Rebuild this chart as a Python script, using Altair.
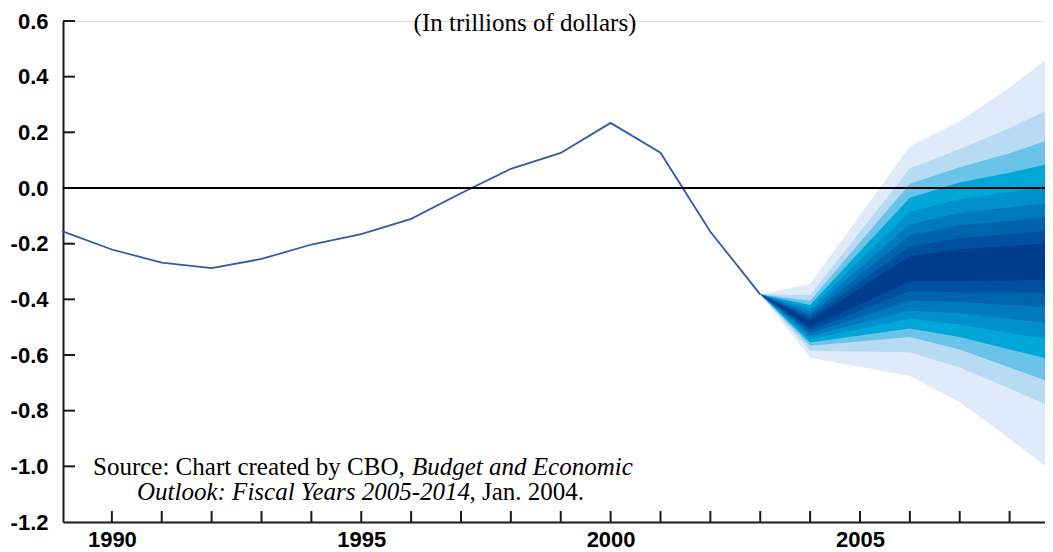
import altair as alt
import pandas as pd

# Historical surplus/deficit (trillions of dollars)
hist_years = list(range(1989, 2004))
hist_vals = [-0.155, -0.221, -0.268, -0.288, -0.255, -0.203, -0.166, -0.111,
             -0.019, 0.069, 0.126, 0.234, 0.127, -0.157, -0.382]

# Fan chart: band boundaries, outermost band first
fan_years = [2003, 2004, 2006, 2007, 2008, 2009]
upper_2003 = [-0.382] * 9
upper_2004 = [-0.345, -0.385, -0.405, -0.42, -0.432, -0.443, -0.455, -0.465, -0.475]
upper_2006 = [0.15, 0.07, 0.015, -0.035, -0.085, -0.13, -0.17, -0.21, -0.245]
upper_2007 = [0.24, 0.14, 0.075, 0.02, -0.04, -0.09, -0.135, -0.18, -0.22]
upper_2008 = [0.36, 0.215, 0.125, 0.055, -0.015, -0.07, -0.118, -0.165, -0.208]
upper_2009 = [0.50, 0.30, 0.185, 0.095, 0.012, -0.048, -0.10, -0.15, -0.195]

lower_2003 = [-0.382] * 9
lower_2004 = [-0.61, -0.585, -0.567, -0.555, -0.543, -0.532, -0.522, -0.512, -0.50]
lower_2006 = [-0.675, -0.59, -0.535, -0.505, -0.47, -0.44, -0.405, -0.37, -0.335]
lower_2007 = [-0.77, -0.645, -0.58, -0.535, -0.49, -0.45, -0.41, -0.375, -0.335]
lower_2008 = [-0.90, -0.72, -0.645, -0.58, -0.52, -0.47, -0.42, -0.375, -0.332]
lower_2009 = [-1.04, -0.80, -0.71, -0.623, -0.552, -0.49, -0.43, -0.377, -0.33]

band_colors = ["#dfeafa", "#b7dbf3", "#6ac3e9", "#00a7d7", "#0091cc",
               "#0079bf", "#0064ad", "#0050a0", "#003b8c"]

x_labels = [1990, 1995, 2000, 2005]
x_tick_years = list(range(1990, 2009))
y_labels = [-1.2, -1.0, -0.8, -0.6, -0.4, -0.2, 0.0, 0.2, 0.4, 0.6]
y_tick_vals = [-1.0, -0.8, -0.6, -0.4, -0.2, 0.2, 0.4, 0.6]

title_text = "(In trillions of dollars)"
src1_reg = "Source: Chart created by CBO,"
src1_it = "Budget and Economic"
src2_it = "Outlook: Fiscal Years 2005-2014"
src2_reg = ", Jan. 2004."

W, H = 982, 501

uppers = [upper_2003, upper_2004, upper_2006, upper_2007, upper_2008, upper_2009]
lowers = [lower_2003, lower_2004, lower_2006, lower_2007, lower_2008, lower_2009]

xscale = alt.Scale(domain=[1989.02, 2008.71], nice=False, zero=False)
yscale = alt.Scale(domain=[-1.2, 0.6], nice=False, zero=False)

x_axis = alt.Axis(values=x_labels, format="d", ticks=False, grid=False,
                  labelPadding=7, domainColor="#1a1a1a", domainWidth=2,
                  labelFont="Liberation Sans", labelFontWeight="bold",
                  labelFontSize=22, labelColor="black", title=None)
y_axis = alt.Axis(values=y_labels, ticks=False, grid=False, labelPadding=15,
                  labelExpr="datum.value < 0 ? '-' + format(-datum.value, '.1f') : format(datum.value, '.1f')",
                  domainColor="#1a1a1a", domainWidth=2,
                  labelFont="Liberation Sans", labelFontWeight="bold",
                  labelFontSize=22, labelColor="black", title=None)


def X(field):
    return alt.X(field, scale=xscale, axis=x_axis)


def Y(field):
    return alt.Y(field, scale=yscale, axis=y_axis)


layers = []
for k in range(9):
    df = pd.DataFrame({
        "year": fan_years,
        "lo": [lw[k] for lw in lowers],
        "hi": [up[k] for up in uppers],
    })
    layers.append(alt.Chart(df).mark_area(color=band_colors[k], clip=True,
                                          interpolate="linear").encode(
        x=X("year:Q"), y=Y("lo:Q"), y2="hi:Q"))

hist_df = pd.DataFrame({"year": hist_years, "v": hist_vals})
line = alt.Chart(hist_df).mark_line(color="#2d5ca8", strokeWidth=1.8).encode(
    x=X("year:Q"), y=Y("v:Q"))

zero = alt.Chart(pd.DataFrame({"v": [0.0]})).mark_rule(
    color="black", strokeWidth=2).encode(y=Y("v:Q"))

yt = alt.Chart(pd.DataFrame({"v": y_tick_vals})).mark_rule(
    color="#1a1a1a", strokeWidth=2).encode(
    y=Y("v:Q"), x=alt.value(0), x2=alt.value(12))

xt = alt.Chart(pd.DataFrame({"year": x_tick_years})).mark_rule(
    color="#1a1a1a", strokeWidth=2).encode(
    x=X("year:Q"), y=alt.value(H), y2=alt.value(H - 11))

one = pd.DataFrame({"a": [1]})
serif = "Liberation Serif"
t_title = alt.Chart(one).mark_text(text=title_text, font=serif, fontSize=25,
                                   align="center", baseline="alphabetic",
                                   color="black").encode(
    x=alt.value(462), y=alt.value(9.5))
t1a = alt.Chart(one).mark_text(text=src1_reg, font=serif, fontSize=25,
                               align="left", baseline="alphabetic",
                               color="black").encode(x=alt.value(30), y=alt.value(454))
t1b = alt.Chart(one).mark_text(text=src1_it, font=serif, fontSize=25,
                               fontStyle="italic", align="left",
                               baseline="alphabetic", color="black").encode(
    x=alt.value(349), y=alt.value(454))
t2a = alt.Chart(one).mark_text(text=src2_it, font=serif, fontSize=25,
                               fontStyle="italic", align="left",
                               baseline="alphabetic", color="black").encode(
    x=alt.value(74), y=alt.value(479))
t2b = alt.Chart(one).mark_text(text=src2_reg, font=serif, fontSize=25,
                               align="left", baseline="alphabetic",
                               color="black").encode(x=alt.value(406.5), y=alt.value(479))

chart = alt.layer(*layers, line, zero, yt, xt, t_title, t1a, t1b, t2a, t2b).properties(
    width=W, height=H,
    autosize=alt.AutoSizeParams(type="none"),
    padding={"left": 55, "top": 13, "right": 0, "bottom": 30},
).configure_view(stroke=None).configure(background="white")

chart.save("out.html", embed_options={"renderer": "svg", "actions": False})
